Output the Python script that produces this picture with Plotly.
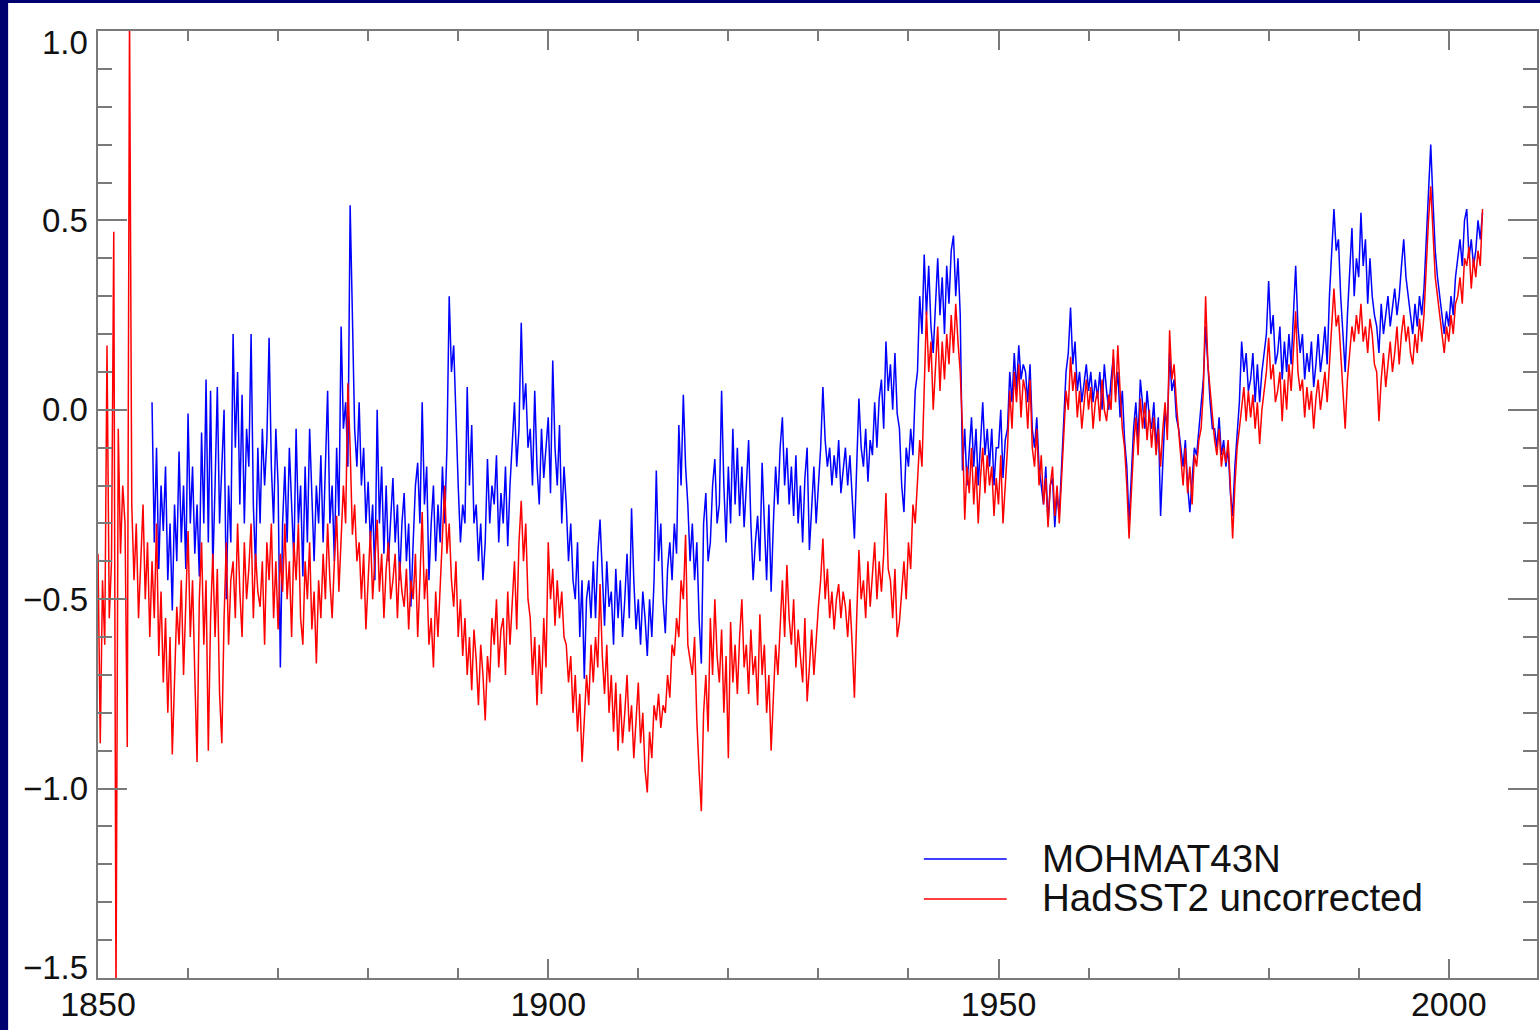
import numpy as np
import plotly.graph_objects as go

# ---------------- data (quarterly readings from the picture) ----------------
red_start = 1850.0
hadsst2_uncorrected = [
    -0.38, -0.88, -0.45, -0.62,  # 1850
    0.17, -0.55, -0.40, 0.47,    # 1851
    -1.55, -0.05, -0.38, -0.20,  # 1852
    -0.30, -0.89, 1.05, -0.25,   # 1853
    -0.45, -0.30, -0.55, -0.38,  # 1854
    -0.25, -0.50, -0.35, -0.60,  # 1855
    -0.40, -0.55, -0.30, -0.65,  # 1856
    -0.48, -0.72, -0.55, -0.80,  # 1857
    -0.60, -0.91, -0.70, -0.52,  # 1858
    -0.62, -0.45, -0.70, -0.50,  # 1859
    -0.32, -0.60, -0.45, -0.70,  # 1860
    -0.93, -0.50, -0.35, -0.62,  # 1861
    -0.45, -0.90, -0.55, -0.38,  # 1862
    -0.60, -0.42, -0.75, -0.88,  # 1863
    -0.55, -0.35, -0.62, -0.45,  # 1864
    -0.40, -0.55, -0.30, -0.48,  # 1865
    -0.60, -0.35, -0.50, -0.42,  # 1866
    -0.30, -0.55, -0.38, -0.48,  # 1867
    -0.52, -0.40, -0.62, -0.35,  # 1868
    -0.45, -0.30, -0.55, -0.40,  # 1869
    -0.58, -0.38, -0.48, -0.30,  # 1870
    -0.50, -0.40, -0.60, -0.35,  # 1871
    -0.45, -0.30, -0.55, -0.62,  # 1872
    -0.40, -0.50, -0.35, -0.58,  # 1873
    -0.48, -0.67, -0.45, -0.55,  # 1874
    -0.38, -0.50, -0.30, -0.45,  # 1875
    -0.55, -0.40, -0.28, -0.48,  # 1876
    -0.35, -0.20, -0.30, 0.07,   # 1877
    -0.10, -0.33, -0.25, -0.40,  # 1878
    -0.35, -0.50, -0.38, -0.58,  # 1879
    -0.45, -0.32, -0.50, -0.40,  # 1880
    -0.29, -0.48, -0.38, -0.55,  # 1881
    -0.42, -0.35, -0.50, -0.45,  # 1882
    -0.38, -0.55, -0.40, -0.48,  # 1883
    -0.52, -0.42, -0.58, -0.45,  # 1884
    -0.50, -0.38, -0.60, -0.45,  # 1885
    -0.27, -0.50, -0.42, -0.62,  # 1886
    -0.55, -0.68, -0.48, -0.60,  # 1887
    -0.45, -0.35, -0.20, -0.38,  # 1888
    -0.30, -0.45, -0.52, -0.40,  # 1889
    -0.60, -0.50, -0.65, -0.55,  # 1890
    -0.70, -0.60, -0.74, -0.58,  # 1891
    -0.66, -0.78, -0.62, -0.70,  # 1892
    -0.82, -0.65, -0.72, -0.55,  # 1893
    -0.62, -0.50, -0.68, -0.58,  # 1894
    -0.55, -0.70, -0.48, -0.62,  # 1895
    -0.50, -0.40, -0.58, -0.35,  # 1896
    -0.24, -0.40, -0.30, -0.50,  # 1897
    -0.55, -0.70, -0.60, -0.78,  # 1898
    -0.62, -0.75, -0.55, -0.68,  # 1899
    -0.35, -0.50, -0.42, -0.57,  # 1900
    -0.45, -0.55, -0.48, -0.60,  # 1901
    -0.62, -0.72, -0.65, -0.80,  # 1902
    -0.70, -0.85, -0.75, -0.93,  # 1903
    -0.82, -0.70, -0.78, -0.62,  # 1904
    -0.72, -0.60, -0.68, -0.46,  # 1905
    -0.65, -0.75, -0.62, -0.80,  # 1906
    -0.70, -0.85, -0.72, -0.90,  # 1907
    -0.75, -0.88, -0.80, -0.70,  # 1908
    -0.85, -0.78, -0.92, -0.80,  # 1909
    -0.72, -0.88, -0.80, -0.95,  # 1910
    -1.01, -0.85, -0.92, -0.78,  # 1911
    -0.82, -0.75, -0.84, -0.78,  # 1912
    -0.80, -0.70, -0.76, -0.62,  # 1913
    -0.65, -0.55, -0.60, -0.45,  # 1914
    -0.50, -0.33, -0.62, -0.66,  # 1915
    -0.70, -0.60, -0.82, -0.95,  # 1916
    -1.06, -0.80, -0.70, -0.85,  # 1917
    -0.55, -0.70, -0.50, -0.65,  # 1918
    -0.72, -0.58, -0.80, -0.65,  # 1919
    -0.92, -0.56, -0.72, -0.62,  # 1920
    -0.75, -0.60, -0.50, -0.68,  # 1921
    -0.62, -0.75, -0.58, -0.70,  # 1922
    -0.65, -0.78, -0.54, -0.70,  # 1923
    -0.62, -0.80, -0.70, -0.90,  # 1924
    -0.75, -0.62, -0.70, -0.55,  # 1925
    -0.45, -0.60, -0.41, -0.55,  # 1926
    -0.62, -0.50, -0.68, -0.58,  # 1927
    -0.65, -0.72, -0.55, -0.77,  # 1928
    -0.68, -0.58, -0.70, -0.60,  # 1929
    -0.52, -0.45, -0.34, -0.50,  # 1930
    -0.42, -0.55, -0.48, -0.58,  # 1931
    -0.50, -0.46, -0.55, -0.48,  # 1932
    -0.52, -0.60, -0.50, -0.62,  # 1933
    -0.76, -0.55, -0.37, -0.50,  # 1934
    -0.45, -0.55, -0.40, -0.52,  # 1935
    -0.42, -0.35, -0.50, -0.40,  # 1936
    -0.48, -0.38, -0.22, -0.42,  # 1937
    -0.45, -0.55, -0.42, -0.60,  # 1938
    -0.56, -0.48, -0.40, -0.50,  # 1939
    -0.35, -0.42, -0.25, -0.30,  # 1940
    -0.18, -0.08, -0.15, 0.05,   # 1941
    0.26, 0.10, 0.18, 0.00,      # 1942
    0.12, 0.22, 0.05, 0.18,      # 1943
    0.08, 0.20, 0.12, 0.25,      # 1944
    0.15, 0.28, 0.18, 0.10,      # 1945
    -0.05, -0.29, -0.15, -0.22,  # 1946
    -0.10, -0.25, -0.15, -0.30,  # 1947
    -0.18, -0.10, -0.22, -0.12,  # 1948
    -0.20, -0.15, -0.28, -0.18,  # 1949
    -0.25, -0.12, -0.30, -0.20,  # 1950
    -0.10, 0.05, -0.05, 0.10,    # 1951
    0.02, 0.12, -0.02, 0.08,     # 1952
    0.05, -0.05, 0.08, -0.10,    # 1953
    -0.15, -0.05, -0.20, -0.12,  # 1954
    -0.25, -0.18, -0.31, -0.20,  # 1955
    -0.15, -0.28, -0.20, -0.30,  # 1956
    -0.18, -0.05, 0.05, 0.00,    # 1957
    0.14, 0.05, 0.10, -0.02,     # 1958
    0.05, -0.05, 0.02, 0.08,     # 1959
    0.00, 0.06, -0.05, 0.02,     # 1960
    0.05, -0.03, 0.08, 0.00,     # 1961
    -0.03, 0.04, 0.00, 0.16,     # 1962
    0.02, 0.17, 0.05, -0.05,     # 1963
    -0.10, -0.20, -0.34, -0.22,  # 1964
    -0.10, -0.02, -0.12, 0.03,   # 1965
    -0.05, 0.02, -0.08, 0.00,    # 1966
    -0.10, -0.02, -0.12, -0.05,  # 1967
    -0.15, -0.05, 0.02, -0.08,   # 1968
    0.21, 0.08, 0.12, 0.02,      # 1969
    -0.05, -0.12, -0.20, -0.10,  # 1970
    -0.22, -0.15, -0.25, -0.12,  # 1971
    -0.15, -0.08, -0.05, 0.05,   # 1972
    0.30, 0.12, 0.05, -0.02,     # 1973
    -0.08, -0.12, -0.05, -0.15,  # 1974
    -0.10, -0.14, -0.08, -0.20,  # 1975
    -0.34, -0.20, -0.10, -0.05,  # 1976
    0.00, 0.06, -0.03, 0.05,     # 1977
    -0.02, 0.04, -0.05, 0.02,    # 1978
    -0.09, 0.00, 0.05, 0.10,     # 1979
    0.19, 0.08, 0.12, 0.02,      # 1980
    0.05, 0.10, -0.03, 0.08,     # 1981
    0.00, 0.12, 0.05, 0.15,      # 1982
    0.26, 0.10, 0.05, 0.08,      # 1983
    -0.02, 0.06, 0.00, 0.05,     # 1984
    -0.05, 0.03, 0.08, 0.00,     # 1985
    0.05, 0.10, 0.02, 0.12,      # 1986
    0.20, 0.32, 0.22, 0.25,      # 1987
    0.15, 0.05, -0.05, 0.08,     # 1988
    0.15, 0.22, 0.18, 0.25,      # 1989
    0.20, 0.28, 0.18, 0.22,      # 1990
    0.15, 0.24, 0.20, 0.12,      # 1991
    0.10, -0.03, 0.08, 0.15,     # 1992
    0.06, 0.12, 0.18, 0.10,      # 1993
    0.15, 0.22, 0.12, 0.20,      # 1994
    0.25, 0.18, 0.22, 0.15,      # 1995
    0.12, 0.20, 0.15, 0.24,      # 1996
    0.18, 0.25, 0.38, 0.50,      # 1997
    0.59, 0.45, 0.35, 0.30,      # 1998
    0.25, 0.20, 0.15, 0.22,      # 1999
    0.18, 0.25, 0.20, 0.28,      # 2000
    0.30, 0.35, 0.28, 0.40,      # 2001
    0.38, 0.43, 0.32, 0.40,      # 2002
    0.35, 0.42, 0.38, 0.53,      # 2003
]

blue_start = 1856.0
mohmat43n = [
    0.02, -0.35, -0.10, -0.42,   # 1856
    -0.20, -0.32, -0.15, -0.45,  # 1857
    -0.30, -0.53, -0.25, -0.40,  # 1858
    -0.11, -0.35, -0.20, -0.42,  # 1859
    -0.01, -0.30, -0.15, -0.38,  # 1860
    -0.25, -0.44, -0.06, -0.30,  # 1861
    0.08, -0.35, 0.05, -0.42,    # 1862
    -0.20, 0.06, -0.30, -0.15,   # 1863
    0.00, -0.50, -0.20, -0.35,   # 1864
    0.20, -0.10, 0.10, -0.25,    # 1865
    0.04, -0.30, -0.05, -0.15,   # 1866
    0.20, -0.25, -0.42, -0.10,   # 1867
    -0.30, -0.05, -0.20, -0.08,  # 1868
    0.19, -0.15, -0.30, -0.05,   # 1869
    -0.20, -0.68, -0.30, -0.15,  # 1870
    -0.35, -0.10, -0.28, -0.40,  # 1871
    -0.05, -0.30, -0.20, -0.44,  # 1872
    -0.15, -0.35, -0.05, -0.25,  # 1873
    -0.40, -0.20, -0.30, -0.12,  # 1874
    -0.35, -0.15, 0.05, -0.30,   # 1875
    -0.20, -0.40, -0.10, -0.28,  # 1876
    0.22, -0.05, 0.02, -0.15,    # 1877
    0.54, 0.25, -0.05, -0.15,    # 1878
    0.02, -0.20, -0.10, -0.30,   # 1879
    -0.19, -0.35, -0.25, -0.45,  # 1880
    0.00, -0.30, -0.15, -0.38,   # 1881
    -0.20, -0.40, -0.28, -0.18,  # 1882
    -0.35, -0.25, -0.45, -0.30,  # 1883
    -0.22, -0.40, -0.30, -0.52,  # 1884
    -0.35, -0.20, -0.14, -0.30,  # 1885
    0.02, -0.25, -0.15, -0.45,   # 1886
    -0.30, -0.20, -0.40, -0.25,  # 1887
    -0.35, -0.15, -0.30, -0.10,  # 1888
    0.30, 0.10, 0.17, -0.04,     # 1889
    -0.20, -0.35, -0.25, -0.30,  # 1890
    0.06, -0.20, -0.04, -0.30,   # 1891
    -0.25, -0.40, -0.30, -0.45,  # 1892
    -0.35, -0.13, -0.30, -0.20,  # 1893
    -0.25, -0.12, -0.35, -0.22,  # 1894
    -0.30, -0.15, -0.36, -0.20,  # 1895
    -0.10, 0.02, -0.15, -0.05,   # 1896
    0.23, 0.00, 0.07, -0.10,     # 1897
    -0.05, -0.20, 0.05, -0.15,   # 1898
    -0.25, -0.05, -0.18, -0.10,  # 1899
    -0.02, -0.22, 0.13, -0.10,   # 1900
    -0.20, -0.04, -0.30, -0.15,  # 1901
    -0.25, -0.40, -0.30, -0.45,  # 1902
    -0.50, -0.35, -0.60, -0.45,  # 1903
    -0.71, -0.50, -0.45, -0.55,  # 1904
    -0.40, -0.55, -0.38, -0.29,  # 1905
    -0.45, -0.57, -0.40, -0.52,  # 1906
    -0.48, -0.62, -0.42, -0.55,  # 1907
    -0.45, -0.60, -0.50, -0.38,  # 1908
    -0.55, -0.26, -0.45, -0.58,  # 1909
    -0.50, -0.62, -0.48, -0.55,  # 1910
    -0.65, -0.50, -0.60, -0.45,  # 1911
    -0.16, -0.40, -0.30, -0.50,  # 1912
    -0.59, -0.42, -0.35, -0.45,  # 1913
    -0.30, -0.38, -0.04, -0.20,  # 1914
    0.04, -0.15, -0.25, -0.40,   # 1915
    -0.30, -0.45, -0.35, -0.55,  # 1916
    -0.67, -0.30, -0.22, -0.40,  # 1917
    -0.35, -0.20, -0.13, -0.30,  # 1918
    -0.25, 0.05, -0.20, -0.35,   # 1919
    -0.15, -0.30, -0.05, -0.25,  # 1920
    -0.10, -0.28, -0.15, -0.31,  # 1921
    -0.20, -0.08, -0.30, -0.45,  # 1922
    -0.35, -0.28, -0.40, -0.14,  # 1923
    -0.30, -0.45, -0.25, -0.48,  # 1924
    -0.30, -0.15, -0.25, -0.10,  # 1925
    -0.02, -0.20, -0.10, -0.25,  # 1926
    -0.15, -0.28, -0.12, -0.30,  # 1927
    -0.20, -0.35, -0.18, -0.10,  # 1928
    -0.37, -0.25, -0.15, -0.30,  # 1929
    -0.20, -0.10, 0.06, -0.08,   # 1930
    -0.15, -0.10, -0.20, -0.12,  # 1931
    -0.18, -0.08, -0.22, -0.15,  # 1932
    -0.10, -0.20, -0.12, -0.23,  # 1933
    -0.34, -0.15, 0.03, -0.10,   # 1934
    -0.15, -0.05, -0.19, -0.08,  # 1935
    -0.12, 0.02, -0.10, 0.03,    # 1936
    0.08, -0.05, 0.18, 0.05,     # 1937
    0.12, 0.00, 0.15, -0.01,     # 1938
    -0.05, -0.20, -0.27, -0.10,  # 1939
    -0.15, -0.05, -0.12, 0.05,   # 1940
    0.10, 0.30, 0.20, 0.41,      # 1941
    0.25, 0.38, 0.22, 0.15,      # 1942
    0.30, 0.40, 0.25, 0.35,      # 1943
    0.20, 0.38, 0.28, 0.42,      # 1944
    0.46, 0.30, 0.40, 0.25,      # 1945
    -0.16, -0.05, -0.20, -0.10,  # 1946
    -0.02, -0.15, -0.05, -0.20,  # 1947
    -0.08, 0.02, -0.12, -0.05,   # 1948
    -0.15, -0.05, -0.20, -0.10,  # 1949
    -0.10, 0.00, -0.18, -0.08,   # 1950
    -0.05, 0.10, 0.02, 0.15,     # 1951
    0.05, 0.17, 0.08, 0.12,      # 1952
    0.10, 0.02, 0.12, -0.05,     # 1953
    -0.10, -0.02, -0.15, -0.20,  # 1954
    -0.25, -0.15, -0.30, -0.20,  # 1955
    -0.18, -0.31, -0.22, -0.28,  # 1956
    -0.15, 0.00, 0.10, 0.15,     # 1957
    0.27, 0.12, 0.18, 0.05,      # 1958
    0.10, 0.02, 0.08, 0.12,      # 1959
    0.05, 0.10, 0.02, 0.08,      # 1960
    0.03, 0.10, 0.00, 0.12,      # 1961
    0.05, 0.00, 0.08, 0.14,      # 1962
    0.04, 0.10, -0.02, 0.05,     # 1963
    -0.08, -0.15, -0.30, -0.18,  # 1964
    -0.05, 0.02, -0.08, 0.08,    # 1965
    0.02, -0.05, 0.05, -0.02,    # 1966
    -0.05, 0.02, -0.10, -0.02,   # 1967
    -0.28, -0.12, 0.00, -0.05,   # 1968
    0.15, 0.05, 0.08, -0.02,     # 1969
    -0.05, -0.10, -0.15, -0.08,  # 1970
    -0.20, -0.27, -0.18, -0.10,  # 1971
    -0.12, -0.05, 0.00, 0.08,    # 1972
    0.22, 0.10, 0.02, -0.05,     # 1973
    -0.05, -0.10, -0.02, -0.12,  # 1974
    -0.08, -0.15, -0.10, -0.22,  # 1975
    -0.28, -0.15, -0.05, 0.02,   # 1976
    0.18, 0.10, 0.15, 0.05,      # 1977
    0.08, 0.15, 0.02, 0.12,      # 1978
    0.02, 0.10, 0.15, 0.20,      # 1979
    0.34, 0.20, 0.25, 0.12,      # 1980
    0.15, 0.22, 0.08, 0.18,      # 1981
    0.10, 0.20, 0.12, 0.25,      # 1982
    0.38, 0.22, 0.15, 0.20,      # 1983
    0.08, 0.15, 0.10, 0.18,      # 1984
    0.06, 0.12, 0.20, 0.10,      # 1985
    0.15, 0.22, 0.12, 0.30,      # 1986
    0.40, 0.53, 0.42, 0.45,      # 1987
    0.30, 0.20, 0.10, 0.25,      # 1988
    0.35, 0.48, 0.30, 0.40,      # 1989
    0.35, 0.52, 0.38, 0.45,      # 1990
    0.28, 0.40, 0.30, 0.25,      # 1991
    0.22, 0.15, 0.28, 0.20,      # 1992
    0.25, 0.30, 0.22, 0.28,      # 1993
    0.32, 0.25, 0.30, 0.38,      # 1994
    0.45, 0.35, 0.30, 0.25,      # 1995
    0.20, 0.28, 0.22, 0.30,      # 1996
    0.25, 0.32, 0.45, 0.60,      # 1997
    0.70, 0.55, 0.42, 0.35,      # 1998
    0.30, 0.25, 0.20, 0.26,      # 1999
    0.22, 0.30, 0.25, 0.35,      # 2000
    0.40, 0.45, 0.38, 0.50,      # 2001
    0.53, 0.40, 0.45, 0.38,      # 2002
    0.42, 0.50, 0.45, 0.52,      # 2003
]

series_names = ["MOHMAT43N", "HadSST2 uncorrected"]
x_tick_values = [1850, 1900, 1950, 2000]
x_tick_labels = ["1850", "1900", "1950", "2000"]
y_tick_values = [1.0, 0.5, 0.0, -0.5, -1.0, -1.5]
y_tick_labels = ["1.0", "0.5", "0.0", "\u22120.5", "\u22121.0", "\u22121.5"]

# ---------------- styling ----------------
W, H = 1540, 1030
ML, MR, MT, MB = 98, 1, 31, 52
PW, PH = W - ML - MR, H - MT - MB
NAVY = "#000070"
AXIS = "#7a7a7a"
BLUE = "#0000ff"
RED = "#ff0000"
TEXT = "#111111"
FONT = "Liberation Sans, Arial, Helvetica, sans-serif"

def px(xp):
    return (xp - ML) / PW

def py(yp):
    return (H - MB - yp) / PH

red_t = red_start + np.arange(len(hadsst2_uncorrected)) / 4.0
blue_t = blue_start + np.arange(len(mohmat43n)) / 4.0

fig = go.Figure()
fig.add_trace(go.Scatter(x=blue_t, y=mohmat43n, mode="lines", name=series_names[0],
                         line=dict(color=BLUE, width=1.5), showlegend=False))
fig.add_trace(go.Scatter(x=red_t, y=hadsst2_uncorrected, mode="lines", name=series_names[1],
                         line=dict(color=RED, width=1.5), showlegend=False))

# white page area inside the navy frame
fig.add_shape(type="rect", xref="paper", yref="paper",
              x0=px(8), x1=px(W + 5), y0=py(H + 5), y1=py(3),
              fillcolor="white", line=dict(width=0), layer="below")

# legend (manual, to match long line samples)
legend_rows = [(859, 858, BLUE, series_names[0]), (899, 897, RED, series_names[1])]
for ly, ty, col, name in legend_rows:
    fig.add_shape(type="line", xref="paper", yref="paper",
                  x0=px(925), x1=px(1008), y0=py(ly), y1=py(ly),
                  line=dict(color=col, width=1.5))
    fig.add_annotation(x=px(1041), y=py(ty), xref="paper", yref="paper",
                       text=name, showarrow=False, xanchor="left", yanchor="middle",
                       font=dict(family=FONT, size=38.5, color=TEXT))

# y tick labels: the end labels sit just inside the frame, as in the reference
for val, lab in zip(y_tick_values, y_tick_labels):
    shift = -11 if val == max(y_tick_values) else (11 if val == min(y_tick_values) else 0)
    fig.add_annotation(x=0, y=val, xref="paper", yref="y", text=lab, showarrow=False,
                       xanchor="right", yanchor="middle", xshift=-8, yshift=shift,
                       font=dict(family=FONT, size=33, color=TEXT))

fig.update_layout(
    width=W, height=H,
    margin=dict(l=ML, r=MR, t=MT, b=MB, pad=0),
    paper_bgcolor=NAVY, plot_bgcolor="white",
    font=dict(family=FONT, size=34, color=TEXT),
    showlegend=False,
)
fig.update_xaxes(
    range=[1850, 2009.8], showgrid=False, zeroline=False,
    showline=True, linecolor=AXIS, linewidth=1.5, mirror="allticks",
    ticks="inside", ticklen=19, tickwidth=1.5, tickcolor=AXIS,
    tickvals=x_tick_values, ticktext=x_tick_labels,
    tickfont=dict(family=FONT, size=34, color=TEXT),
    ticklabelstandoff=-5,
    minor=dict(ticks="inside", ticklen=10, tickwidth=1.5, tickcolor=AXIS, dtick=10, tick0=1850, showgrid=False),
)
fig.update_yaxes(
    range=[-1.5, 1.0], showgrid=False, zeroline=False,
    showline=True, linecolor=AXIS, linewidth=1.5, mirror="allticks",
    ticks="inside", ticklen=29, tickwidth=1.5, tickcolor=AXIS,
    tickvals=y_tick_values, showticklabels=False,
    minor=dict(ticks="inside", ticklen=14, tickwidth=1.5, tickcolor=AXIS, dtick=0.1, tick0=0, showgrid=False),
)

fig.write_html("out.html")
